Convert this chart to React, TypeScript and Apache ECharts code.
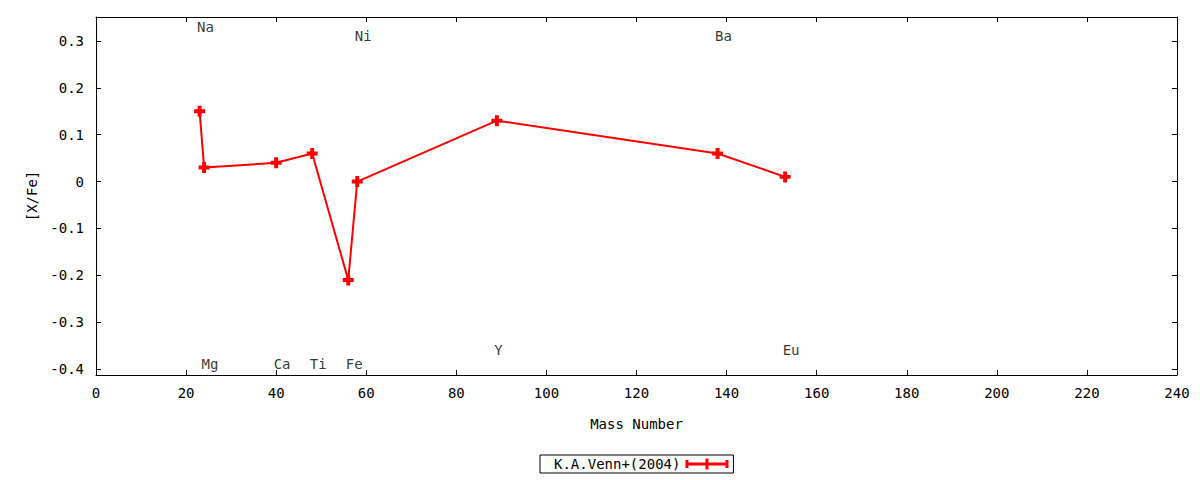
import React, { useEffect, useRef } from "react";
import * as echarts from "echarts";

const seriesName = "K.A.Venn+(2004)";
const massNumbers = [23, 24, 40, 48, 56, 58, 89, 138, 153];
const xFeValues = [0.15, 0.03, 0.04, 0.06, -0.21, 0.0, 0.13, 0.06, 0.01];

const elementNames = ["Na", "Mg", "Ca", "Ti", "Fe", "Ni", "Y", "Ba", "Eu"];
const elementLabelX = [23, 24, 40, 48, 56, 58, 89, 138, 153];
const elementLabelY = [0.33, -0.39, -0.39, -0.39, -0.39, 0.31, -0.36, 0.31, -0.36];

const yTicks = [-0.4, -0.3, -0.2, -0.1, 0, 0.1, 0.2, 0.3];
const yMin = -0.4128;
const yMax = 0.3512;

const FONT = "DejaVu Sans Mono";
const PLUS = "path://M3.2,0H6.8V3.2H10V6.8H6.8V10H3.2V6.8H0V3.2H3.2Z";
const LEGEND_ICON =
  "path://M0,4H43V7H0Z M0,1.5H3V9.5H0Z M20,0H23V11H20Z M40,1.5H43V9.5H40Z M18,4H25V7H18Z";

export default function App() {
  const ref = useRef<HTMLDivElement>(null);
  useEffect(() => {
    if (!ref.current) return;
    const chart = echarts.init(ref.current, undefined, { renderer: "svg" });
    const lineData = massNumbers.map((m, i) => [m, xFeValues[i]]);
    const labelData = elementNames.map((n, i) => [elementLabelX[i], elementLabelY[i], n]);
    const textStyle = { fontFamily: FONT, fontSize: 14, color: "#000" };
    const axisLine = { show: true, onZero: false, lineStyle: { color: "#000", width: 1 } };
    const tick = { inside: true, length: 5, lineStyle: { color: "#000" } };
    chart.setOption({
      animation: false,
      backgroundColor: "#fff",
      textStyle,
      grid: { left: 96, right: 23, top: 17, bottom: 105, containLabel: false },
      legend: {
        data: [seriesName],
        left: 540,
        top: 455,
        align: "right",
        icon: LEGEND_ICON,
        itemWidth: 43,
        itemHeight: 11,
        borderColor: "#000",
        borderWidth: 1,
        borderRadius: 0,
        padding: [2, 5, 2, 14],
        textStyle,
      },
      xAxis: [
        {
          type: "value",
          position: "bottom",
          min: 0,
          max: 240,
          interval: 20,
          name: "Mass Number",
          nameLocation: "middle",
          nameGap: 42,
          nameTextStyle: textStyle,
          axisLine,
          axisTick: tick,
          axisLabel: { ...textStyle, margin: 11 },
          splitLine: { show: false },
        },
        {
          type: "value",
          position: "top",
          min: 0,
          max: 240,
          interval: 20,
          axisLine,
          axisTick: tick,
          axisLabel: { show: false },
          splitLine: { show: false },
        },
      ],
      yAxis: [
        {
          type: "value",
          position: "left",
          min: yMin,
          max: yMax,
          name: "[X/Fe]",
          nameLocation: "middle",
          nameGap: 56,
          nameTextStyle: textStyle,
          axisLine,
          axisTick: { ...tick, customValues: yTicks },
          axisLabel: { ...textStyle, margin: 12, customValues: yTicks },
          splitLine: { show: false },
        },
        {
          type: "value",
          position: "right",
          min: yMin,
          max: yMax,
          axisLine,
          axisTick: { ...tick, customValues: yTicks },
          axisLabel: { show: false },
          splitLine: { show: false },
        },
      ],
      series: [
        {
          name: seriesName,
          type: "line",
          xAxisIndex: 0,
          yAxisIndex: 0,
          data: lineData,
          symbol: PLUS,
          symbolSize: 11,
          showAllSymbol: true,
          lineStyle: { color: "#ff0000", width: 2 },
          itemStyle: { color: "#ff0000" },
          z: 3,
        },
        {
          name: "labels",
          type: "scatter",
          xAxisIndex: 0,
          yAxisIndex: 0,
          data: labelData,
          symbolSize: 1,
          itemStyle: { color: "rgba(0,0,0,0)" },
          label: {
            show: true,
            position: "right",
            distance: -3,
            formatter: (p: any) => p.value[2],
            ...textStyle,
          },
          silent: true,
          z: 2,
        },
      ],
    });
    return () => chart.dispose();
  }, []);
  return (
    <div
      ref={ref}
      style={{ position: "fixed", left: 0, top: 0, width: 1200, height: 480, background: "#fff" }}
    />
  );
}
